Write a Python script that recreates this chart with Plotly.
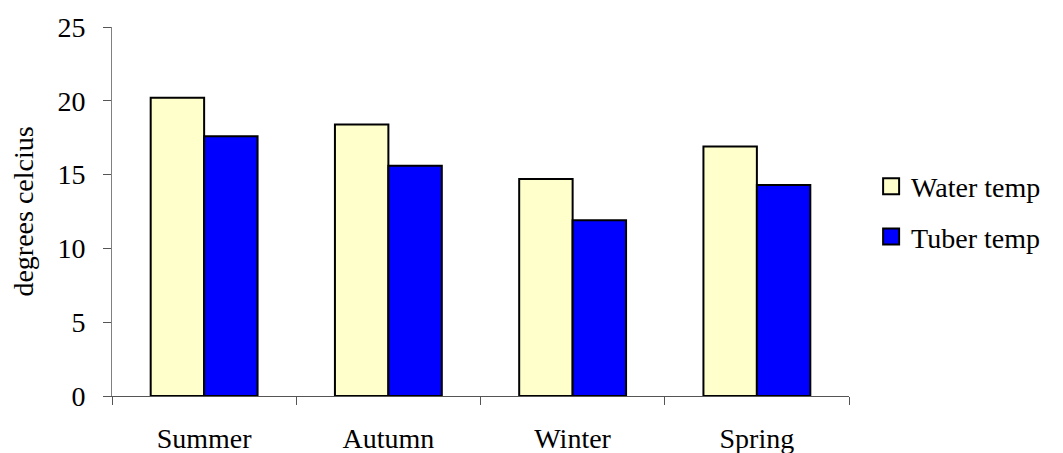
import plotly.graph_objects as go

seasons = ["Summer", "Autumn", "Winter", "Spring"]
water_temp = [20.2, 18.4, 14.7, 16.9]
tuber_temp = [17.6, 15.6, 11.9, 14.3]
y_ticks = [0, 5, 10, 15, 20, 25]

FONT = "Liberation Serif"
WATER_COLOR = "#FFFFCC"
TUBER_COLOR = "#0000FF"

fig = go.Figure()
fig.add_trace(go.Bar(x=seasons, y=water_temp, name="Water temp",
                     marker=dict(color=WATER_COLOR, line=dict(color="black", width=2)),
                     showlegend=False))
fig.add_trace(go.Bar(x=seasons, y=tuber_temp, name="Tuber temp",
                     marker=dict(color=TUBER_COLOR, line=dict(color="black", width=2)),
                     showlegend=False))
# legend proxies (square swatches)
for name, col in [("Water temp", WATER_COLOR), ("Tuber temp", TUBER_COLOR)]:
    fig.add_trace(go.Scatter(x=[None], y=[None], mode="markers", name=name,
                             legendgroup=name,
                             marker=dict(symbol="square", size=16, color=col,
                                         line=dict(color="black", width=2))))

# page body has an 8px default margin, so the figure is 8px smaller
fig.update_layout(
    width=1055, height=445,
    margin=dict(l=104, r=214, t=19, b=57),
    paper_bgcolor="white", plot_bgcolor="white",
    font=dict(family=FONT, size=28, color="black"),
    barmode="group", bargap=0.42, bargroupgap=0,
    showlegend=True,
    legend=dict(x=1.03, y=0.5, xanchor="left", yanchor="middle",
                font=dict(family=FONT, size=28, color="black"),
                bgcolor="rgba(0,0,0,0)", itemwidth=30, tracegroupgap=11,
                traceorder="grouped"),
)
fig.update_xaxes(
    automargin=False,
    showline=True, linecolor="#555555", linewidth=1,
    ticks="outside", ticklen=8, tickcolor="#555555", tickson="boundaries",
    showgrid=False, ticklabelstandoff=17,
    tickfont=dict(family=FONT, size=28),
)
fig.update_yaxes(
    automargin=False,
    range=[0, 25], tickvals=y_ticks,
    showline=True, linecolor="#808080", linewidth=1,
    ticks="outside", ticklen=8, tickcolor="#555555",
    showgrid=False, zeroline=False, ticklabelstandoff=12,
    tickfont=dict(family=FONT, size=28),
    title=dict(text="degrees celcius", standoff=21, font=dict(family=FONT, size=28)),
)

fig.write_html("out.html")
